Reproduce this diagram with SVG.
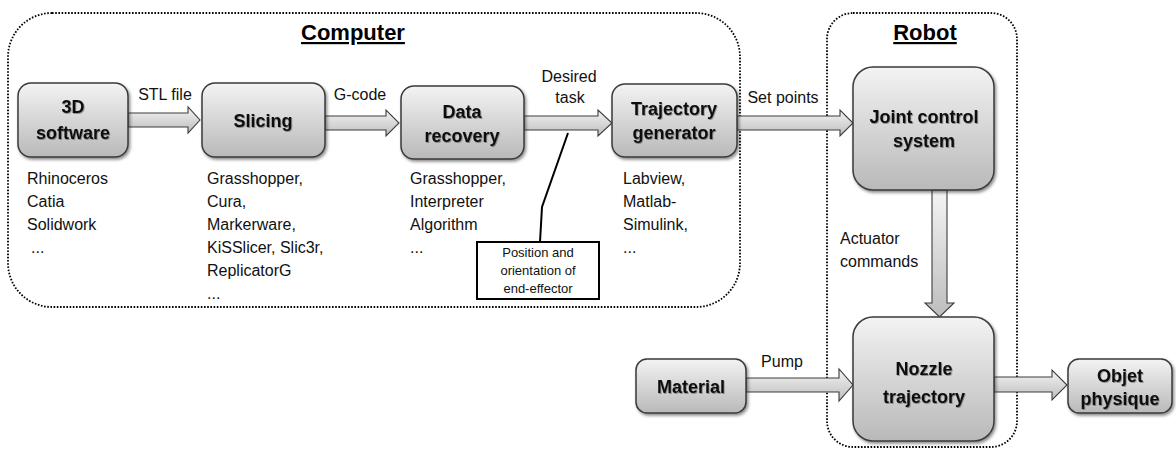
<svg xmlns="http://www.w3.org/2000/svg" width="1176" height="449" viewBox="0 0 1176 449">
  <style>
    .frame { fill: none; stroke: #000; stroke-width: 1.8; stroke-dasharray: 1.6 1.6; }
    .title { font-family: "Liberation Sans", Arial, sans-serif; font-size: 22px; font-weight: bold; text-anchor: middle; text-decoration: underline; fill: #000; }
    .box { fill: url(#boxGrad); stroke: #3a3a3a; stroke-width: 1.5; filter: url(#boxShadow); }
    .lbl { font-family: "Liberation Sans", Arial, sans-serif; font-size: 18px; font-weight: bold; text-anchor: middle; fill: #111; filter: url(#textShadow); }
    .list { font-family: "Liberation Sans", Arial, sans-serif; font-size: 16px; fill: #111; }
    .edge { font-family: "Liberation Sans", Arial, sans-serif; font-size: 16px; fill: #111; }
    .mid { text-anchor: middle; }
    .arrow { fill: url(#arrowGrad); stroke: #3c3c3c; stroke-width: 1.1; stroke-linejoin: miter; }
    .note { fill: #fff; stroke: #000; stroke-width: 2; }
    .noteText { font-family: "Liberation Sans", Arial, sans-serif; font-size: 13px; text-anchor: middle; fill: #111; }
  </style>
  <defs>
    <linearGradient id="boxGrad" x1="0" y1="0" x2="0" y2="1">
      <stop offset="0" stop-color="#f3f3f3"/>
      <stop offset="1" stop-color="#b9b9b9"/>
    </linearGradient>
    <linearGradient id="arrowGrad" x1="0" y1="0" x2="0" y2="1">
      <stop offset="0" stop-color="#f4f4f4"/>
      <stop offset="1" stop-color="#bdbdbd"/>
    </linearGradient>
    <filter id="boxShadow" x="-10%" y="-10%" width="125%" height="130%">
      <feDropShadow dx="1.5" dy="2" stdDeviation="1.8" flood-color="#000" flood-opacity="0.45"/>
    </filter>
    <filter id="textShadow" x="-10%" y="-20%" width="120%" height="150%">
      <feDropShadow dx="0.8" dy="1" stdDeviation="0.7" flood-color="#000" flood-opacity="0.35"/>
    </filter>
  </defs>

  <!-- enclosures -->
  <g id="computer">
    <rect class="frame" x="8" y="13" width="732" height="294" rx="44" ry="44"/>
    <text class="title" x="353" y="40">Computer</text>
  </g>
  <g id="robot">
    <rect class="frame" x="827" y="13" width="190" height="434" rx="26" ry="26"/>
    <text class="title" x="925" y="40">Robot</text>
  </g>

  <!-- block arrows and their labels -->
  <g id="connectors">
    <path class="arrow" d="M128,113 H188 V107 L200,120 L188,133 V127 H128 Z"/>
    <text class="edge mid" x="165" y="100">STL file</text>

    <path class="arrow" d="M325,116 H386 V110 L399,123 L386,136 V130 H325 Z"/>
    <text class="edge mid" x="360" y="100">G-code</text>

    <path class="arrow" d="M524,116 H598 V110 L612,123 L598,136 V130 H524 Z"/>
    <text class="edge mid" x="569" y="82">Desired</text>
    <text class="edge mid" x="570" y="103">task</text>

    <path class="arrow" d="M737,116 H840 V110 L853,123 L840,136 V130 H737 Z"/>
    <text class="edge mid" x="783" y="103">Set points</text>

    <path class="arrow" d="M932,190 V303 H925 L939.5,317 L954,303 H947 V190 Z"/>
    <text class="edge" x="840" y="244">Actuator</text>
    <text class="edge" x="840" y="267">commands</text>

    <path class="arrow" d="M746,378 H839 V369 L853,385 L839,401 V392 H746 Z"/>
    <text class="edge mid" x="782" y="367">Pump</text>

    <path class="arrow" d="M994,377 H1052 V370 L1067,385 L1052,400 V392 H994 Z"/>

    <polyline points="540,242 542,207 568,133" fill="none" stroke="#000" stroke-width="2"/>
  </g>

  <!-- process nodes -->
  <g id="software3d">
    <rect class="box" x="18" y="83" width="110" height="74" rx="13"/>
    <text class="lbl" x="73" y="113">3D</text>
    <text class="lbl" x="73" y="139">software</text>
    <text class="list" x="27" y="184">Rhinoceros</text>
    <text class="list" x="27" y="207">Catia</text>
    <text class="list" x="27" y="230">Solidwork</text>
    <text class="list" x="31" y="253">...</text>
  </g>

  <g id="slicing">
    <rect class="box" x="202" y="83" width="123" height="74" rx="13"/>
    <text class="lbl" x="263" y="127">Slicing</text>
    <text class="list" x="207" y="184">Grasshopper,</text>
    <text class="list" x="207" y="207">Cura,</text>
    <text class="list" x="207" y="230">Markerware,</text>
    <text class="list" x="207" y="253">KiSSlicer, Slic3r,</text>
    <text class="list" x="207" y="276">ReplicatorG</text>
    <text class="list" x="207" y="299">...</text>
  </g>

  <g id="dataRecovery">
    <rect class="box" x="401" y="86" width="123" height="73" rx="13"/>
    <text class="lbl" x="462" y="118">Data</text>
    <text class="lbl" x="462" y="142">recovery</text>
    <text class="list" x="410" y="184">Grasshopper,</text>
    <text class="list" x="410" y="207">Interpreter</text>
    <text class="list" x="410" y="230">Algorithm</text>
    <text class="list" x="410" y="253">...</text>
  </g>

  <g id="trajectoryGenerator">
    <rect class="box" x="612" y="84" width="125" height="73" rx="13"/>
    <text class="lbl" x="674" y="115">Trajectory</text>
    <text class="lbl" x="674" y="139">generator</text>
    <text class="list" x="623" y="184">Labview,</text>
    <text class="list" x="623" y="207">Matlab-</text>
    <text class="list" x="623" y="230">Simulink,</text>
    <text class="list" x="623" y="253">...</text>
  </g>

  <g id="endEffectorNote">
    <rect class="note" x="477" y="242" width="122" height="57"/>
    <text class="noteText" x="538" y="257">Position and</text>
    <text class="noteText" x="538" y="275">orientation of</text>
    <text class="noteText" x="538" y="293">end-effector</text>
  </g>

  <g id="jointControl">
    <rect class="box" x="853" y="67" width="141" height="123" rx="20"/>
    <text class="lbl" x="924" y="123">Joint control</text>
    <text class="lbl" x="924" y="147">system</text>
  </g>

  <g id="nozzleTrajectory">
    <rect class="box" x="853" y="317" width="141" height="124" rx="20"/>
    <text class="lbl" x="924" y="375">Nozzle</text>
    <text class="lbl" x="924" y="403">trajectory</text>
  </g>

  <g id="material">
    <rect class="box" x="636" y="359" width="110" height="54" rx="11"/>
    <text class="lbl" x="691" y="393">Material</text>
  </g>

  <g id="objetPhysique">
    <rect class="box" x="1068" y="359" width="104" height="54" rx="11"/>
    <text class="lbl" x="1120" y="382">Objet</text>
    <text class="lbl" x="1120" y="405">physique</text>
  </g>
</svg>
